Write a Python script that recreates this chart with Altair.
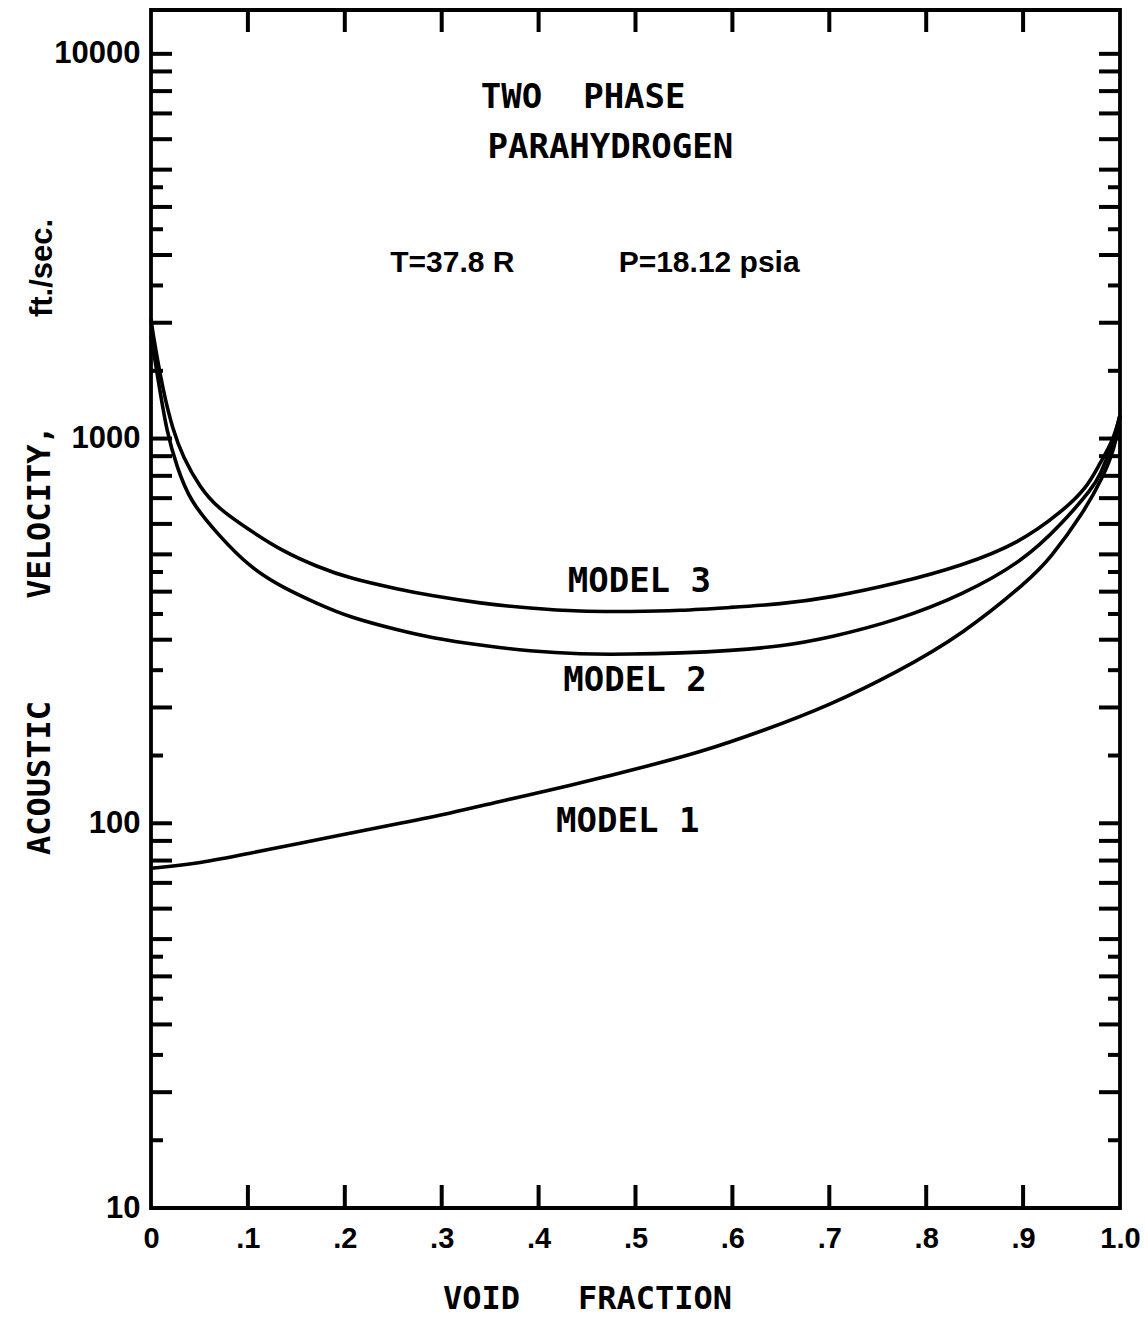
import altair as alt
import pandas as pd

# ---------------- data ----------------
m1_f = [0.0, 0.0506, 0.102, 0.154, 0.205, 0.257, 0.309, 0.360, 0.412, 0.463, 0.515,
        0.563, 0.632, 0.701, 0.770, 0.838, 0.907, 0.928, 0.962, 0.982, 0.995, 1.0]
m1_v = [76.4, 78.7, 83.6, 88.7, 94.2, 100, 106.2, 114, 122, 131, 141.5,
        152, 174, 203, 247, 310, 430, 488, 640, 790, 948, 1150]

m2_f = [0.0, 0.007, 0.0165, 0.027, 0.040, 0.068, 0.102, 0.136, 0.171, 0.205, 0.257,
        0.288, 0.340, 0.391, 0.443, 0.494, 0.546, 0.598, 0.649, 0.701, 0.770, 0.838,
        0.900, 0.940, 0.972, 0.979, 0.993, 1.0]
m2_v = [1850, 1440, 1030, 841, 690, 567, 462, 410, 373, 343, 317,
        304, 290, 280, 275, 275, 277, 281, 288, 304, 337, 393,
        480, 600, 746, 800, 971, 1150]

m3_f = [0.0, 0.002, 0.0124, 0.0227, 0.033, 0.0506, 0.068, 0.102, 0.136, 0.171, 0.205,
        0.257, 0.288, 0.340, 0.391, 0.443, 0.494, 0.546, 0.598, 0.649, 0.701, 0.770,
        0.838, 0.896, 0.940, 0.966, 0.979, 0.993, 1.0]
m3_v = [2050, 1870, 1330, 1050, 895, 746, 662, 577, 509, 465, 433,
        405, 391, 373, 362, 355, 355, 357, 364, 371, 386, 420,
        468, 535, 645, 746, 861, 988, 1150]

x_tick_values = [0, 0.1, 0.2, 0.3, 0.4, 0.5, 0.6, 0.7, 0.8, 0.9, 1.0]
x_inner_ticks = [0.1, 0.2, 0.3, 0.4, 0.5, 0.6, 0.7, 0.8, 0.9]
y_label_values = [10, 100, 1000, 10000]
y_long_ticks = [20, 30, 40, 50, 60, 70, 80, 90, 100,
                200, 300, 400, 500, 600, 700, 800, 900, 1000,
                2000, 3000, 4000, 5000, 6000, 7000, 8000, 9000, 10000]
y_short_ticks = [15, 25, 35, 45, 150, 250, 350, 450, 1500, 2500, 3500, 4500]

cap_labels = ["TWO\u00a0\u00a0PHASE", "PARAHYDROGEN", "MODEL 3", "MODEL 2", "MODEL 1"]
cap_f = [0.446, 0.474, 0.504, 0.4995, 0.492]
cap_v = [7690, 5700, 423, 235, 100.6]

param_labels = ["T=37.8 R", "P=18.12 psia"]
param_f = [0.311, 0.576]
param_v = [2865, 2865]

# ---------------- build ----------------
W, H = 969, 1198
curves = pd.DataFrame({
    "f": m1_f + m2_f + m3_f,
    "v": m1_v + m2_v + m3_v,
    "model": ["Model 1"] * len(m1_f) + ["Model 2"] * len(m2_f) + ["Model 3"] * len(m3_f),
})

xs = alt.Scale(domain=[0, 1], nice=False, zero=False)
ys = alt.Scale(type="log", domain=[10, 13000], nice=False)

x_axis = alt.Axis(
    values=x_tick_values,
    labelExpr="datum.value == 0 ? '0' : (datum.value == 1 ? '1.0' : replace(format(datum.value, '.1f'), '0.', '.'))",
    ticks=False, domain=False, grid=False,
    labelFont="Liberation Sans", labelFontSize=29, labelFontWeight="bold",
    labelColor="black", labelPadding=16, labelFlush=False,
    title="VOID" + "\u00a0" * 3 + "FRACTION",
    titleFont="DejaVu Sans Mono", titleFontSize=32, titleFontWeight="bold", titleColor="black",
    titleX=436, titleY=90, titleBaseline="middle", titleAlign="center",
)
y_axis = alt.Axis(
    values=y_label_values, format="d",
    ticks=False, domain=False, grid=False,
    labelFont="Liberation Sans", labelFontSize=31, labelFontWeight="bold",
    labelColor="black", labelPadding=11, labelFlush=False,
    title=None,
)

X = alt.X("f:Q", scale=xs, axis=x_axis)
Y = alt.Y("v:Q", scale=ys, axis=y_axis)

lines = alt.Chart(curves).mark_line(color="black", strokeWidth=3.6, interpolate="basis").encode(
    x=X, y=Y, detail="model:N"
)

ylong = pd.DataFrame({"v": y_long_ticks})
yshort = pd.DataFrame({"v": y_short_ticks})
xin = pd.DataFrame({"f": x_inner_ticks})

rule = dict(color="black", strokeWidth=4, strokeCap="butt")
left_long = alt.Chart(ylong).mark_rule(**rule).encode(y=Y, x=alt.value(0), x2=alt.value(21))
left_short = alt.Chart(yshort).mark_rule(**rule).encode(y=Y, x=alt.value(0), x2=alt.value(12))
right_long = alt.Chart(ylong).mark_rule(**rule).encode(y=Y, x=alt.value(W), x2=alt.value(W - 21))
right_short = alt.Chart(yshort).mark_rule(**rule).encode(y=Y, x=alt.value(W), x2=alt.value(W - 12))
top_ticks = alt.Chart(xin).mark_rule(**rule).encode(x=X, y=alt.value(0), y2=alt.value(22))
bottom_ticks = alt.Chart(xin).mark_rule(**rule).encode(x=X, y=alt.value(H), y2=alt.value(H - 23))

caps = alt.Chart(pd.DataFrame({"f": cap_f, "v": cap_v, "t": cap_labels})).mark_text(
    font="DejaVu Sans Mono", fontSize=34, fontWeight="bold", align="center", baseline="middle", color="black"
).encode(x=X, y=Y, text="t:N")

params = alt.Chart(pd.DataFrame({"f": param_f, "v": param_v, "t": param_labels})).mark_text(
    font="Liberation Sans", fontSize=30, fontWeight="bold", align="center", baseline="middle", color="black"
).encode(x=X, y=Y, text="t:N")

# y-axis title pieces (rotated), placed relative to the plot frame
layers_t = []
ytitle_txt = ["ACOUSTIC", "VELOCITY,"]
ytitle_y = [768, 502]
for t, yy in zip(ytitle_txt, ytitle_y):
    layers_t.append(
        alt.Chart(pd.DataFrame({"t": [t]})).mark_text(
            font="DejaVu Sans Mono", fontSize=32, fontWeight="bold", angle=270,
            align="center", baseline="middle", color="black"
        ).encode(x=alt.value(-111), y=alt.value(yy), text="t:N")
    )
layers_t.append(
    alt.Chart(pd.DataFrame({"t": ["ft./sec."]})).mark_text(
        font="Liberation Sans", fontSize=31, fontWeight="bold", angle=270,
        align="center", baseline="middle", color="black"
    ).encode(x=alt.value(-108), y=alt.value(258), text="t:N")
)

chart = alt.layer(
    lines, left_long, left_short, right_long, right_short, top_ticks, bottom_ticks,
    caps, params, *layers_t
).properties(
    width=W, height=H,
    autosize=alt.AutoSizeParams(type="none"),
    padding={"left": 143, "top": 2, "right": 20, "bottom": 110},
).configure_view(stroke="black", strokeWidth=3.8)

chart.save("out.html", embed_options={"renderer": "svg", "actions": False})
